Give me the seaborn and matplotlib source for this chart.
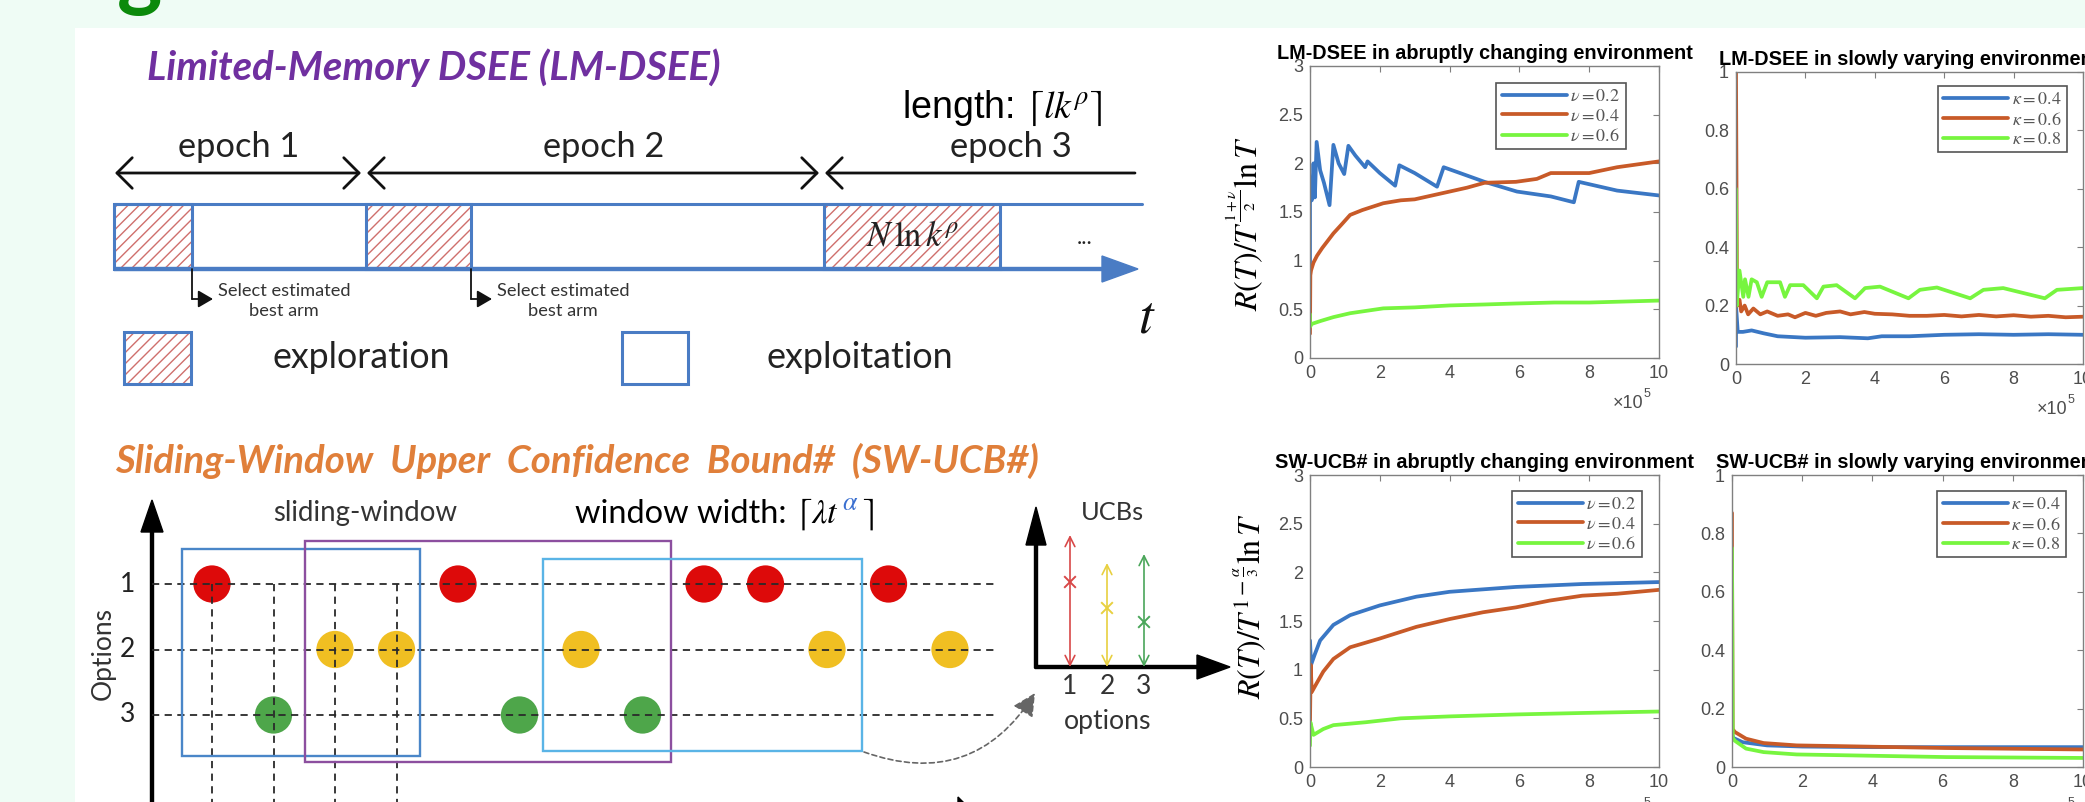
import matplotlib
matplotlib.use("Agg")
import matplotlib.pyplot as plt
from matplotlib.patches import Rectangle, FancyArrow
import seaborn as sns

# ---------------- data ----------------
# regret curves, x in units of 1e5 rounds
lm_ab_x_nu02 = [0.0, 0.0, 0.05, 0.10, 0.14, 0.19, 0.29, 0.40, 0.56, 0.67, 0.82, 0.98, 1.10, 1.30, 1.58,
                1.65, 2.00, 2.44, 2.56, 3.00, 3.64, 3.83, 4.30, 5.00, 5.93, 6.90, 7.56, 7.70, 8.80, 10.0]
lm_ab_y_nu02 = [0.95, 1.76, 1.62, 2.00, 1.65, 2.22, 1.93, 1.80, 1.57, 2.19, 2.00, 1.89, 2.18, 2.08, 1.96,
                2.02, 1.90, 1.77, 1.98, 1.90, 1.76, 1.96, 1.90, 1.81, 1.71, 1.66, 1.60, 1.81, 1.72, 1.67]
lm_ab_x_nu04 = [0.0, 0.01, 0.03, 0.10, 0.20, 0.35, 0.50, 0.67, 0.90, 1.15, 1.50, 2.10, 2.60, 3.00, 4.00,
                4.50, 5.00, 5.90, 6.50, 6.90, 8.00, 8.80, 10.0]
lm_ab_y_nu04 = [0.25, 0.85, 0.90, 0.98, 1.05, 1.13, 1.20, 1.28, 1.37, 1.47, 1.52, 1.59, 1.62, 1.63, 1.71,
                1.75, 1.80, 1.81, 1.84, 1.90, 1.90, 1.96, 2.02]
lm_ab_x_nu06 = [0.0, 0.0, 0.05, 0.3, 0.67, 1.15, 2.1, 3.0, 4.0, 5.0, 5.9, 7.0, 8.0, 9.0, 10.0]
lm_ab_y_nu06 = [0.45, 0.32, 0.35, 0.38, 0.42, 0.46, 0.51, 0.52, 0.54, 0.55, 0.56, 0.57, 0.57, 0.58, 0.59]

lm_sl_x_k04 = [0.0, 0.0, 0.05, 0.2, 0.45, 0.8, 1.2, 2.0, 3.0, 3.8, 4.2, 5.0, 6.0, 7.0, 8.0, 9.0, 10.0]
lm_sl_y_k04 = [0.06, 0.20, 0.11, 0.11, 0.115, 0.105, 0.095, 0.09, 0.092, 0.088, 0.095, 0.095, 0.10,
               0.102, 0.10, 0.102, 0.10]
lm_sl_x_k06 = [0.0, 0.03, 0.10, 0.15, 0.25, 0.35, 0.5, 0.7, 0.9, 1.2, 1.5, 1.7, 2.0, 2.3, 2.6, 3.0, 3.3,
               3.7, 4.0, 4.5, 5.0, 5.5, 6.0, 6.5, 7.0, 7.5, 8.0, 8.5, 9.0, 9.5, 10.0]
lm_sl_y_k06 = [1.0, 0.20, 0.22, 0.18, 0.20, 0.17, 0.19, 0.17, 0.18, 0.165, 0.17, 0.16, 0.175, 0.165,
               0.175, 0.18, 0.17, 0.178, 0.172, 0.17, 0.165, 0.165, 0.168, 0.163, 0.168, 0.163, 0.167,
               0.162, 0.165, 0.16, 0.162]
lm_sl_x_k08 = [0.0, 0.02, 0.10, 0.21, 0.26, 0.36, 0.45, 0.60, 0.74, 0.90, 1.27, 1.41, 1.56, 1.94, 2.33,
               2.52, 2.90, 3.43, 3.72, 4.15, 4.97, 5.30, 5.79, 6.75, 7.13, 7.70, 8.90, 9.25, 10.0]
lm_sl_y_k08 = [0.60, 0.20, 0.32, 0.23, 0.29, 0.23, 0.29, 0.28, 0.23, 0.28, 0.28, 0.23, 0.27, 0.27, 0.225,
               0.265, 0.27, 0.225, 0.26, 0.265, 0.225, 0.254, 0.262, 0.225, 0.254, 0.26, 0.225, 0.254, 0.26]

sw_ab_x_nu02 = [0.0, 0.03, 0.14, 0.29, 0.67, 1.15, 2.0, 3.05, 4.0, 5.9, 7.8, 10.0]
sw_ab_y_nu02 = [1.30, 1.05, 1.16, 1.30, 1.46, 1.56, 1.66, 1.75, 1.80, 1.85, 1.88, 1.90]
sw_ab_x_nu04 = [0.0, 0.02, 0.05, 0.19, 0.38, 0.67, 1.15, 2.0, 3.05, 4.0, 4.96, 5.9, 6.87, 7.8, 8.8, 10.0]
sw_ab_y_nu04 = [0.45, 1.05, 0.77, 0.86, 0.98, 1.11, 1.23, 1.32, 1.44, 1.52, 1.59, 1.64, 1.71, 1.76, 1.78, 1.82]
sw_ab_x_nu06 = [0.0, 0.01, 0.10, 0.38, 0.67, 1.6, 2.6, 4.0, 5.9, 7.8, 10.0]
sw_ab_y_nu06 = [0.22, 0.46, 0.33, 0.39, 0.43, 0.46, 0.50, 0.52, 0.54, 0.555, 0.57]

sw_sl_x_k04 = [0.0, 0.03, 0.3, 1.0, 2.0, 4.0, 6.0, 8.0, 10.0]
sw_sl_y_k04 = [0.12, 0.10, 0.085, 0.074, 0.070, 0.068, 0.068, 0.068, 0.068]
sw_sl_x_k06 = [0.0, 0.0, 0.02, 0.08, 0.4, 0.9, 1.84, 3.3, 6.1, 10.0]
sw_sl_y_k06 = [0.87, 0.75, 0.13, 0.12, 0.097, 0.082, 0.074, 0.071, 0.065, 0.060]
sw_sl_x_k08 = [0.0, 0.02, 0.08, 0.4, 0.9, 1.84, 3.3, 6.1, 10.0]
sw_sl_y_k08 = [0.75, 0.10, 0.09, 0.063, 0.051, 0.043, 0.040, 0.034, 0.031]

nu_labels = [r"$\nu = 0.2$", r"$\nu = 0.4$", r"$\nu = 0.6$"]
kappa_labels = [r"$\kappa = 0.4$", r"$\kappa = 0.6$", r"$\kappa = 0.8$"]

# LM-DSEE schedule (diagram time units)
epoch_start = [0.0, 2.52, 7.10]
explore_len = [0.78, 1.05, 1.76]
epoch_names = ["epoch 1", "epoch 2", "epoch 3"]

# SW-UCB# pulls: option chosen at t = 1..13
pull_time = list(range(1, 14))
pull_option = [1, 3, 2, 2, 1, 3, 2, 3, 1, 1, 2, 1, 2]
window_start = [0.51, 2.51, 6.38]
window_end = [4.38, 8.46, 11.57]

# UCB snapshot
ucb_option = [1, 2, 3]
ucb_mean = [0.85, 0.59, 0.45]
ucb_upper = [1.32, 1.04, 1.13]

# ---------------- style ----------------
sns.set_style("white")
BODY = "Lato"
PLOTF = "Liberation Sans"
plt.rcParams["font.family"] = [BODY, "DejaVu Sans"]
plt.rcParams["mathtext.fontset"] = "stix"
plt.rcParams["hatch.linewidth"] = 1.0

BLUE, ORANGE, LIME = "#3a77c4", "#c85a28", "#77f53f"
BAND = "#4a7cc4"
HATCH = "#cf6f6c"

W, H = 2085, 802
fig = plt.figure(figsize=(W / 100, H / 100), dpi=100, facecolor="#effcf5")
renderer = fig.canvas.get_renderer()

bg = fig.add_axes([0, 0, 1, 1])
bg.set_xlim(0, W)
bg.set_ylim(H, 0)
bg.axis("off")
bg.add_patch(Rectangle((75, 28), W - 75, H - 28, facecolor="white", edgecolor="none"))


def put(x, y, s, width=None, ax=None, **kw):
    t = (ax or bg).text(x, y, s, **kw)
    if width:
        bb = t.get_window_extent(renderer)
        t.set_fontsize(t.get_fontsize() * width / bb.width)
    return t


# heading letter cut by the top edge
put(117, 0, "g", fontsize=62, fontweight="bold", color="#0b8a0b", va="baseline")

# ---------------- LM-DSEE diagram ----------------
put(147, 80, "Limited-Memory DSEE (LM-DSEE)", width=575, fontsize=26, fontweight="bold",
    style="italic", color="#7030a0", va="baseline")
put(902, 118, r"length: $\lceil lk^{\rho}\rceil$", width=201, fontsize=26, family=PLOTF,
    va="baseline", color="black")

lm = fig.add_axes([0, 0, 1, 1])
lm.set_xlim(-1.14, (W - 114) / 100)
lm.set_ylim(H, 0)
lm.axis("off")

for s, L in zip(epoch_start, explore_len):
    lm.add_patch(Rectangle((s, 204), L, 65, facecolor="white", edgecolor=HATCH, hatch="///", lw=0))
    lm.add_patch(Rectangle((s, 204), L, 65, fill=False, edgecolor=BAND, lw=2.2))
lm.plot([0, 10.28], [204, 204], color=BAND, lw=2.2)
lm.add_patch(FancyArrow(0, 269, 10.24, 0, width=3, head_width=26, head_length=0.36,
                        length_includes_head=True, color=BAND))

for i, s in enumerate(epoch_start):
    left = s + 0.01
    if i + 1 < len(epoch_start):
        right = epoch_start[i + 1] - 0.05
        style = "<->,head_length=0.55,head_width=0.55"
    else:
        right = 10.21
        style = "<-,head_length=0.55,head_width=0.55"
    lm.annotate("", xy=(right, 173), xytext=(left, 173),
                arrowprops=dict(arrowstyle=style, lw=2, color="#111", mutation_scale=20,
                                shrinkA=0, shrinkB=0))
for name, xc in zip(epoch_names, [239, 604, 1011]):
    put(xc, 157, name, width=122, ha="center", va="baseline", color="#222")

lm.text(epoch_start[2] + explore_len[2] / 2, 236, r"$N\,\ln k^{\rho}$", ha="center", va="center",
        fontsize=25, color="#222")

for s, L in zip(epoch_start[:2], explore_len[:2]):
    xe = s + L
    lm.plot([xe, xe], [269, 299], color="#111", lw=1.3)
    lm.annotate("", xy=(xe + 0.21, 299), xytext=(xe, 299),
                arrowprops=dict(arrowstyle="-|>,head_length=0.6,head_width=0.35", lw=1.3,
                                color="#111", mutation_scale=15, shrinkA=0, shrinkB=0))
    put(xe + 0.92, 301, "Select estimated\nbest arm", width=132, ax=lm, ha="center", va="center",
        fontsize=12, linespacing=1.3, color="#333")

bg.text(1085, 238, "...", ha="center", va="center", fontsize=16, color="#222")
bg.text(1147, 318, r"$t$", ha="center", va="center", fontsize=38, color="#111")

# legend keys
bg.add_patch(Rectangle((124, 332), 67, 52, facecolor="white", edgecolor=HATCH, hatch="///", lw=0))
bg.add_patch(Rectangle((124, 332), 67, 52, fill=False, edgecolor=BAND, lw=2.2))
bg.add_patch(Rectangle((622, 332), 66, 52, fill=False, edgecolor=BAND, lw=2.2))
put(273, 357, "exploration", width=179, va="center", color="#222")
put(767, 357, "exploitation", width=188, va="center", color="#222")

# ---------------- SW-UCB# diagram ----------------
put(115, 473, "Sliding-Window  Upper  Confidence  Bound#  (SW-UCB#)", width=925, fontsize=24,
    fontweight="bold", style="italic", color="#e07f3a", va="baseline")
put(365, 513, "sliding-window", width=184, ha="center", va="center", color="#333")

# window width: [lambda t^alpha] with a blue exponent
t1 = put(575, 523, "window width: ", width=220, va="baseline", color="black")
fs = t1.get_fontsize()
xr = t1.get_window_extent(renderer).x1
t2 = bg.text(xr, 523, r"$\lceil \lambda t$", fontsize=fs * 1.05, va="baseline", color="black")
xr = t2.get_window_extent(renderer).x1
t3 = bg.text(xr + 3, 523 - fs * 0.55, r"$\alpha$", fontsize=fs * 0.8, va="baseline", color="#3a6fd0")
xr = t3.get_window_extent(renderer).x1
bg.text(xr + 4, 523, r"$\rceil$", fontsize=fs * 1.05, va="baseline", color="black")

x0, dt, y1, dy = 150.5, 61.5, 584, 65.5
sw = fig.add_axes([0, 0, 1, 1])
sns.scatterplot(x=pull_time, y=pull_option, hue=pull_option,
                palette={1: "#dd0a0a", 2: "#f0bf22", 3: "#4ea64a"}, s=720, edgecolor="none",
                legend=False, ax=sw, zorder=2)
sw.set_xlim(-x0 / dt, (W - x0) / dt)
sw.set_ylim(1 + (H - y1) / dy, 1 - y1 / dy)
sw.axis("off")
for o in [1, 2, 3]:
    sw.plot([0.02, 13.73], [o, o], ls=(0, (4, 3)), color="#2a2a2a", lw=1.3, zorder=3)
    sw.text(-0.37, o, str(o), ha="center", va="center", fontsize=19, color="#222")
for t in pull_time[:4]:
    sw.plot([t, t], [1, 5], ls=(0, (4, 3)), color="#2a2a2a", lw=1.3, zorder=3)
win_colors = ["#4a86c8", "#8c4f9f", "#5ab4e6"]
win_y = [(0.466, 3.626), (0.344, 3.718), (0.618, 3.55)]
for ws, we, c, (ya, yb) in zip(window_start, window_end, win_colors, win_y):
    sw.add_patch(Rectangle((ws, ya), we - ws, yb - ya, fill=False, edgecolor=c, lw=1.7, zorder=4))

bg.add_patch(FancyArrow(152, H + 5, 0, -307, width=3, head_width=22, head_length=32,
                        length_includes_head=True, color="black"))
bg.add_patch(FancyArrow(152, 832, 841, 0, width=3, head_width=70, head_length=35,
                        length_includes_head=True, color="black"))
bg.text(103, 653, "Options", rotation=90, ha="center", va="center", fontsize=19, color="#333")
bg.annotate("", xy=(1035, 693), xytext=(864, 752),
            arrowprops=dict(arrowstyle="-|>,head_length=0.7,head_width=0.35", ls=(0, (3, 2)),
                            connectionstyle="arc3,rad=0.4", color="#666", lw=1.2,
                            mutation_scale=20, shrinkA=0, shrinkB=0))

# UCB snapshot
bg.add_patch(FancyArrow(1036, 668, 0, -161, width=3, head_width=20, head_length=38,
                        length_includes_head=True, color="black"))
bg.add_patch(FancyArrow(1035, 667, 195, 0, width=3, head_width=24, head_length=33,
                        length_includes_head=True, color="black"))
ucb = fig.add_axes([0, 0, 1, 1])
ucb.set_xlim(-1033 / 37, (W - 1033) / 37)
ucb.set_ylim((667 - H) / 100, 667 / 100)
ucb.axis("off")
ucb_colors = ["#d84848", "#e8d040", "#4aa65a"]
for o, m, u, c in zip(ucb_option, ucb_mean, ucb_upper, ucb_colors):
    ucb.annotate("", xy=(o, u), xytext=(o, 0),
                 arrowprops=dict(arrowstyle="<->,head_length=0.5,head_width=0.25", color=c, lw=1.2,
                                 mutation_scale=14, shrinkA=0, shrinkB=0))
    ucb.text(o, -0.2, str(o), ha="center", va="center", fontsize=19, color="#333")
ucb.scatter(ucb_option, ucb_mean, marker="x", c=ucb_colors, s=70, linewidths=1.4, zorder=3)
put(1112, 513, "UCBs", width=63, ha="center", va="center", color="#333")
put(1108, 722, "options", width=88, ha="center", va="center", color="#333")


# ---------------- regret panels ----------------
def panel(px, title, xs, ys, labels, ymax, ystep, ylabel, leg_anchor):
    left, top, right, bottom = px
    ax = fig.add_axes([left / W, (H - bottom) / H, (right - left) / W, (bottom - top) / H])
    for x, y, lab, c in zip(xs, ys, labels, [BLUE, ORANGE, LIME]):
        sns.lineplot(x=x, y=y, ax=ax, color=c, lw=2.7, label=lab, sort=False, estimator=None)
    ax.set_xlim(0, 10)
    ax.set_ylim(0, ymax)
    ax.set_xticks([0, 2, 4, 6, 8, 10])
    ax.set_xticklabels(["0", "2", "4", "6", "8", "10"])
    yt = [round(i * ystep, 2) for i in range(int(round(ymax / ystep)) + 1)]
    ax.set_yticks(yt)
    ax.set_yticklabels([("%g" % v) for v in yt])
    ax.tick_params(direction="in", top=True, right=True, length=4, width=0.8, color="#7f7f7f",
                   labelcolor="#4d4d4d", labelsize=13, pad=5)
    for lab in ax.get_xticklabels() + ax.get_yticklabels():
        lab.set_family(PLOTF)
    for sp in ax.spines.values():
        sp.set_color("#808080")
        sp.set_linewidth(1.0)
    ax.set_facecolor("white")
    ax.set_title(title, fontsize=14, fontweight="bold", family=PLOTF, pad=5, color="black")
    if ylabel:
        ax.set_ylabel(ylabel[0], fontsize=23, color="black")
        ax.yaxis.set_label_coords(ylabel[2], ylabel[1])
    ax.text(0.955, -0.155, "\u00d710", transform=ax.transAxes, ha="right", va="center",
            fontsize=13, color="#4d4d4d", family=PLOTF)
    ax.text(0.955, -0.122, "5", transform=ax.transAxes, ha="left", va="center",
            fontsize=9, color="#4d4d4d", family=PLOTF)
    ax.legend(loc="upper right", bbox_to_anchor=leg_anchor, frameon=True, fancybox=False,
              edgecolor="#555", framealpha=1, fontsize=13, handlelength=3.6, labelcolor="#555",
              borderpad=0.3, labelspacing=0.18, handletextpad=0.2, borderaxespad=0)
    ax.get_legend().get_frame().set_linewidth(1.2)
    return ax


axes = [
    panel((1310, 66, 1659, 358), "LM-DSEE in abruptly changing environment",
          [lm_ab_x_nu02, lm_ab_x_nu04, lm_ab_x_nu06], [lm_ab_y_nu02, lm_ab_y_nu04, lm_ab_y_nu06],
          nu_labels, 3, 0.5, (r"$R(T)/T^{\frac{1+\nu}{2}}\ln T$", 0.46, -0.13), (0.905, 0.942)),
    panel((1736, 72, 2083, 364), "LM-DSEE in slowly varying environment",
          [lm_sl_x_k04, lm_sl_x_k06, lm_sl_x_k08], [lm_sl_y_k04, lm_sl_y_k06, lm_sl_y_k08],
          kappa_labels, 1, 0.2, None, (0.954, 0.952)),
    panel((1310, 475, 1659, 767), "SW-UCB# in abruptly changing environment",
          [sw_ab_x_nu02, sw_ab_x_nu04, sw_ab_x_nu06], [sw_ab_y_nu02, sw_ab_y_nu04, sw_ab_y_nu06],
          nu_labels, 3, 0.5, (r"$R(T)/T^{1-\frac{\alpha}{3}}\ln T$", 0.55, -0.12), (0.951, 0.945)),
    panel((1732, 475, 2083, 767), "SW-UCB# in slowly varying environment",
          [sw_sl_x_k04, sw_sl_x_k06, sw_sl_x_k08], [sw_sl_y_k04, sw_sl_y_k06, sw_sl_y_k08],
          kappa_labels, 1, 0.2, None, (0.952, 0.945)),
]
# scale the panel titles so the first one spans the same width as in the poster
k = 417 / axes[0].title.get_window_extent(renderer).width
for ax in axes:
    ax.title.set_fontsize(ax.title.get_fontsize() * k)

fig.savefig("out.png", dpi=100, facecolor=fig.get_facecolor())
